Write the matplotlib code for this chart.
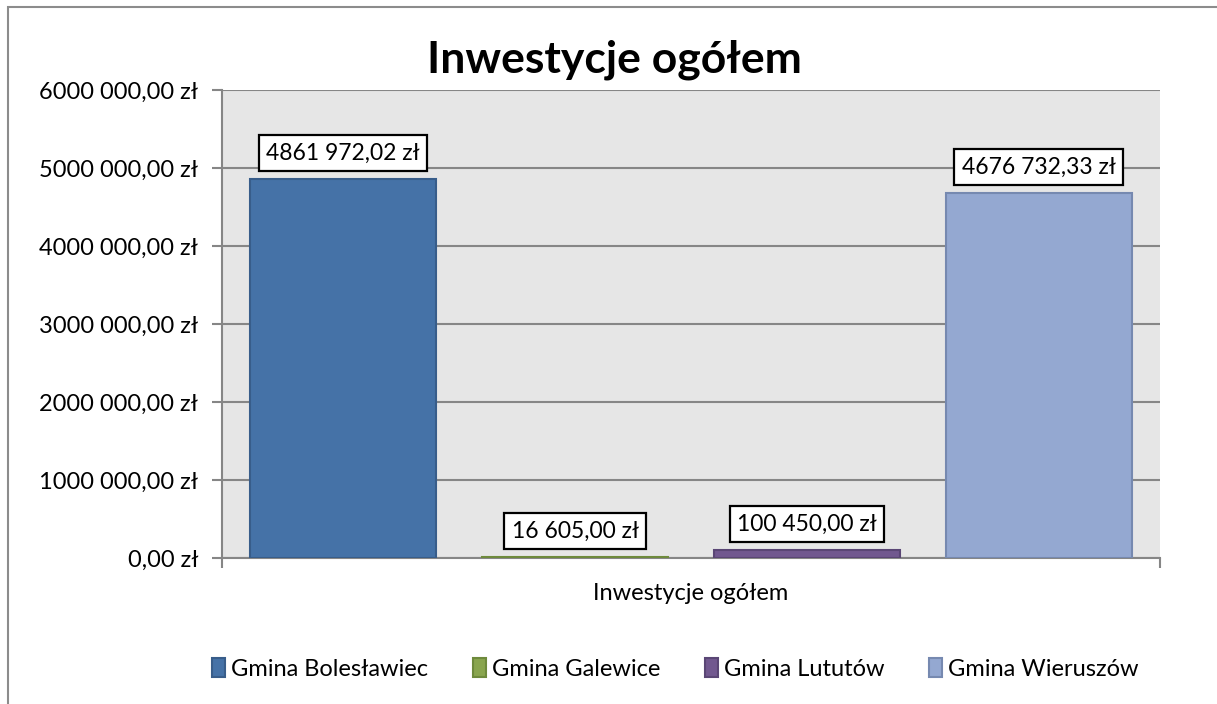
import matplotlib as mpl
mpl.use('Agg')
import matplotlib.pyplot as plt  # NOQA
from matplotlib.patches import Rectangle  # NOQA

plt.rcParams['font.family'] = ['Lato', 'DejaVu Sans']

gminy = ['Gmina Bolesławiec', 'Gmina Galewice', 'Gmina Lututów', 'Gmina Wieruszów']
inwestycje = [4861972.02, 16605.00, 100450.00, 4676732.33]
kategoria = 'Inwestycje ogółem'
y_ticks = [0, 1000000, 2000000, 3000000, 4000000, 5000000, 6000000]
y_tick_labels = ['0,00 zł', '1000 000,00 zł', '2000 000,00 zł', '3000 000,00 zł',
                 '4000 000,00 zł', '5000 000,00 zł', '6000 000,00 zł']

kolory = ['#4572A7', '#89A54E', '#71588F', '#94A8D1']
krawedzie = ['#385D8A', '#6E8A3C', '#5A4675', '#7689B0']


def fmt_zl(v):
    s = '{:,.2f}'.format(v).replace(',', ' ').replace('.', ',')
    # excel drops the gap before the millions group in this file
    if v >= 1000000:
        s = s.replace(' ', '', 1)
    return s + ' zł'


fig = plt.figure(figsize=(12.17, 7.04), dpi=100)
ax = fig.add_axes([0.1824, 0.2074, 0.9532 - 0.1824, 0.8722 - 0.2074])
ax.set_facecolor('#E6E6E6')

step = 0.2473
for i, (g, v) in enumerate(zip(gminy, inwestycje)):
    x = (i - 1.5) * step
    ax.bar(x, v, width=step * 0.8, color=kolory[i], edgecolor=krawedzie[i],
           linewidth=1.5, label=g, zorder=3)
    ax.annotate(fmt_zl(v), (x, v), xytext=(0, 11), textcoords='offset points',
                ha='center', va='bottom', fontsize=16.5, color='black', zorder=5,
                bbox=dict(boxstyle='square,pad=0.33', fc='white', ec='black', lw=1.6))

ax.set_xlim(-0.5, 0.5)
ax.set_ylim(0, 6000000)
ax.set_yticks(y_ticks)
ax.set_yticklabels(y_tick_labels, fontsize=17)
ax.set_xticks([-0.5, 0.5])
ax.set_xticklabels(['', ''])
ax.text(0.5, -0.075, kategoria, transform=ax.transAxes, ha='center', va='center',
        fontsize=17)

ax.grid(axis='y', color='#868686', linewidth=1.5, zorder=1)
ax.set_axisbelow(True)
for side in ['top', 'right']:
    ax.spines[side].set_visible(False)
for side in ['left', 'bottom']:
    ax.spines[side].set_color('#868686')
    ax.spines[side].set_linewidth(1.5)
ax.tick_params(axis='both', color='#868686', width=1.5, length=7, pad=10)

fig.text(0.5045, 0.915, kategoria, ha='center', va='center', fontsize=32,
         fontweight='bold')

h, l = ax.get_legend_handles_labels()
fig.legend(h, l, loc='center', bbox_to_anchor=(0.555, 0.05), ncol=4, frameon=False,
           fontsize=17, handlelength=0.55, handleheight=0.9, handletextpad=0.25,
           columnspacing=1.9)

fig.patches.append(Rectangle((8 / 1217, -0.1), 1.2, 1 - 7 / 704 + 0.1,
                             transform=fig.transFigure, fill=False,
                             ec='#8C8C8C', lw=1.5))

plt.savefig('out.png', dpi=100)
